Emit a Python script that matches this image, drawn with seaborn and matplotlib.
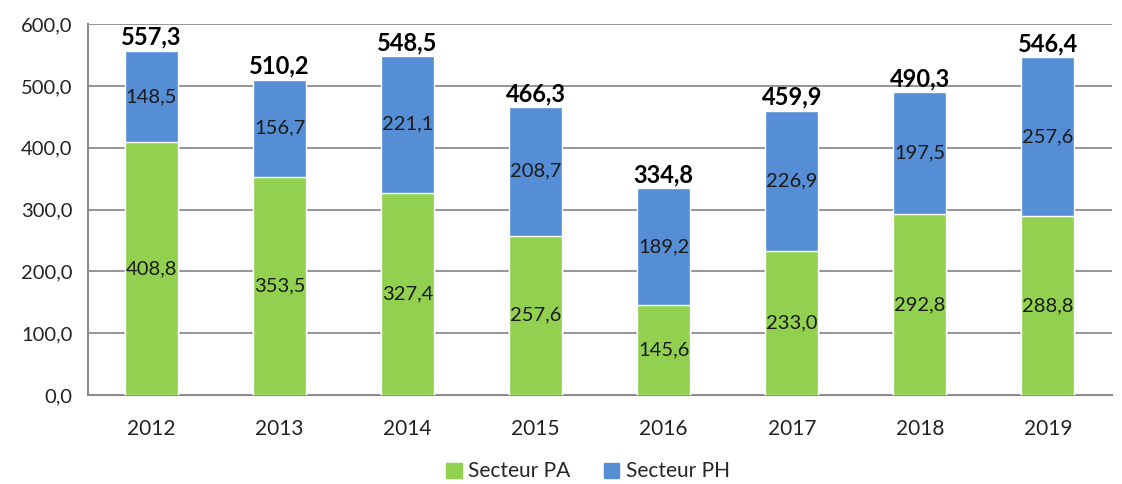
import seaborn as sns
import numpy as np
import pandas as pd
from matplotlib import pyplot as plt
from matplotlib.patches import Patch

years = ["2012", "2013", "2014", "2015", "2016", "2017", "2018", "2019"]
secteur_pa = [408.8, 353.5, 327.4, 257.6, 145.6, 233.0, 292.8, 288.8]
secteur_ph = [148.5, 156.7, 221.1, 208.7, 189.2, 226.9, 197.5, 257.6]
totals = [557.3, 510.2, 548.5, 466.3, 334.8, 459.9, 490.3, 546.4]

green = "#92D050"
blue = "#558ED5"
grey = "#8C8C8C"


def fr(v):
    return f"{v:.1f}".replace(".", ",")


sns.set_style("white")
plt.rcParams['font.family'] = ['Lato', 'DejaVu Sans']

df = pd.DataFrame({"year": years, "PA": secteur_pa, "PH": secteur_ph})
df["total"] = df["PA"] + df["PH"]

fig = plt.figure(figsize=(11.22, 4.84), dpi=100)
ax = fig.add_axes([0.078, 0.184, 0.913, 0.766])

sns.barplot(data=df, x="year", y="total", color=blue, width=0.414,
            saturation=1, ax=ax, zorder=3)
sns.barplot(data=df, x="year", y="PA", color=green, width=0.414,
            saturation=1, ax=ax, zorder=3)

for i in range(len(years)):
    ax.text(i, secteur_pa[i] / 2, fr(secteur_pa[i]), ha="center", va="center",
            fontsize=14.5, color="#1a1a1a", zorder=4)
    ax.text(i, secteur_pa[i] + secteur_ph[i] / 2, fr(secteur_ph[i]), ha="center",
            va="center", fontsize=14.5, color="#1a1a1a", zorder=4)
    ax.text(i, totals[i] + 3, fr(totals[i]), ha="center", va="bottom",
            fontsize=17, fontweight="bold", color="black", zorder=4)

ax.set_ylim(0, 600)
ax.set_xlim(-0.5, len(years) - 0.5)
ax.set_yticks(np.arange(0, 601, 100))
ax.set_yticklabels([fr(v) for v in np.arange(0, 601, 100)], fontsize=14.5, color="#222222")
ax.set_xticks(range(len(years)))
ax.set_xticklabels(years, fontsize=15, color="#222222")
ax.set_xticks(np.arange(-0.5, len(years), 1), minor=True)
ax.tick_params(axis="x", which="major", length=0, pad=17)
ax.tick_params(axis="x", which="minor", length=6, width=1.5, color=grey, direction="out")
ax.tick_params(axis="y", length=6, width=1.5, color=grey, direction="out", pad=5)
ax.set_xlabel("")
ax.set_ylabel("")

ax.yaxis.grid(True, color=grey, linewidth=1.3, zorder=0)
ax.set_axisbelow(True)
for side in ["top", "right"]:
    ax.spines[side].set_visible(False)
for side in ["left", "bottom"]:
    ax.spines[side].set_color(grey)
    ax.spines[side].set_linewidth(1.5)

handles = [Patch(color=green, label="Secteur PA"), Patch(color=blue, label="Secteur PH")]
fig.legend(handles=handles, loc="center", bbox_to_anchor=(0.524, 0.026), ncol=2,
           frameon=False, fontsize=15, handlelength=0.75, handleheight=0.75,
           handletextpad=0.3, columnspacing=1.6)

plt.savefig("out.png", dpi=100)
